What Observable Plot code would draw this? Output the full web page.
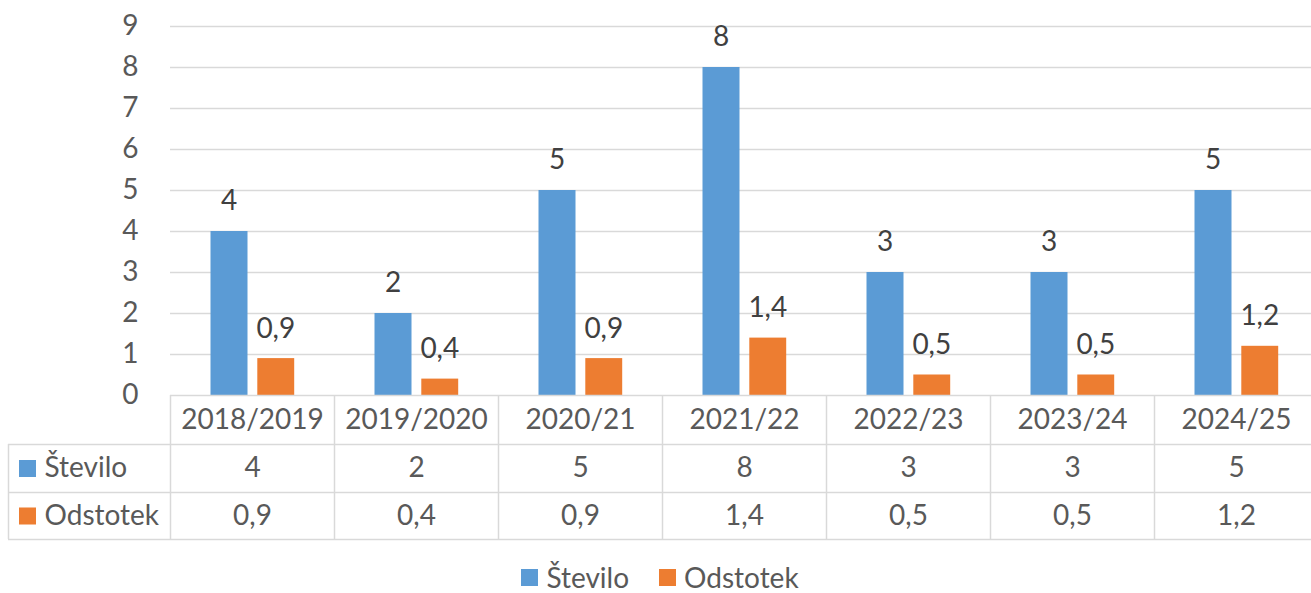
<!DOCTYPE html>
<html>
<head>
<meta charset="utf-8">
<script src="https://cdn.jsdelivr.net/npm/d3@7"></script>
<script src="https://cdn.jsdelivr.net/npm/@observablehq/plot@0.6"></script>
<style>
  html, body { margin: 0; padding: 0; background: #fff; }
  body { width: 1311px; height: 593px; overflow: hidden; font-family: Lato, "Open Sans", sans-serif; }
  #legend { height: 47px; box-sizing: border-box; padding-top: 14px; padding-bottom: 0; padding-left: 9px;
    display: flex; justify-content: center; align-items: center; font-size: 28px; line-height: 34px; color: #595959; }
  #legend .item { display: flex; align-items: center; margin: 0 15px; }
  #legend .sw { width: 17px; height: 17px; margin-right: 8px; display: inline-block; position: relative; top: 1px; }
</style>
</head>
<body>
<div id="chart"></div>
<div id="legend"></div>
<script>
// ---- data ----
const categories = ["2018/2019", "2019/2020", "2020/21", "2021/22", "2022/23", "2023/24", "2024/25"];
const stevilo = [4, 2, 5, 8, 3, 3, 5];
const odstotek = [0.9, 0.4, 0.9, 1.4, 0.5, 0.5, 1.2];
const seriesNames = ["Število", "Odstotek"];
const seriesColors = ["#5b9bd5", "#ed7d31"];
const yTicks = [0, 1, 2, 3, 4, 5, 6, 7, 8, 9];

const rows = categories.map((c, i) => ({cat: c, stevilo: stevilo[i], odstotek: odstotek[i]}));
const fmt = v => String(v).replace(".", ",");

const txt = "#595959";
const lab = "#404040";
const grid = "#d9d9d9";
const FS = 28;

const chart = Plot.plot({
  width: 1311,
  height: 546,
  marginTop: 26,
  marginBottom: 151,
  marginLeft: 170,
  marginRight: 0,
  style: {fontFamily: "Lato, 'Open Sans', sans-serif", fontSize: FS + "px", color: txt, background: "#fff"},
  x: {domain: categories, range: [170, 1318], padding: 0, axis: null},
  y: {domain: [0, 9], range: [395, 26], axis: null},
  marks: [
    Plot.gridY(yTicks.filter(t => t > 0), {stroke: grid, strokeOpacity: 1, strokeWidth: 1.5}),
    Plot.axisY(yTicks, {tickSize: 0, tickPadding: 32, fontSize: FS, fill: txt, label: null}),
    // bars
    Plot.barY(rows, {x: "cat", y: "stevilo", fill: seriesColors[0], insetLeft: 40.5, insetRight: 86.5}),
    Plot.barY(rows, {x: "cat", y: "odstotek", fill: seriesColors[1], insetLeft: 87.3, insetRight: 39.8}),
    // data labels
    Plot.text(rows, {x: "cat", y: "stevilo", text: d => fmt(d.stevilo), dx: -23.5, dy: -30, lineAnchor: "middle", fill: lab, fontSize: FS}),
    Plot.text(rows, {x: "cat", y: "odstotek", text: d => fmt(d.odstotek), dx: 23.3, dy: -30, lineAnchor: "middle", fill: lab, fontSize: FS}),
    // data table lines
    Plot.ruleY([0], {stroke: grid, strokeWidth: 1.5}),
    Plot.ruleY([0], {stroke: grid, strokeWidth: 1.5, dy: 49, insetLeft: -162}),
    Plot.ruleY([0], {stroke: grid, strokeWidth: 1.5, dy: 97, insetLeft: -162}),
    Plot.ruleY([0], {stroke: grid, strokeWidth: 1.5, dy: 144, insetLeft: -162}),
    Plot.ruleX(categories, {x: d => d, dx: -82, stroke: grid, strokeWidth: 1.5, insetTop: 369, insetBottom: -144}),
    Plot.ruleX([categories[0]], {x: d => d, dx: -82 - 162, stroke: grid, strokeWidth: 1.5, insetTop: 369 + 49, insetBottom: -144}),
    // table text
    Plot.text(rows, {x: "cat", text: "cat", frameAnchor: "bottom", lineAnchor: "middle", dy: 24.5, fill: txt, fontSize: FS}),
    Plot.text(rows, {x: "cat", text: d => fmt(d.stevilo), frameAnchor: "bottom", lineAnchor: "middle", dy: 73, fill: txt, fontSize: FS}),
    Plot.text(rows, {x: "cat", text: d => fmt(d.odstotek), frameAnchor: "bottom", lineAnchor: "middle", dy: 120.5, fill: txt, fontSize: FS}),
    // row headers with keys
    Plot.dot([seriesNames[0]], {frameAnchor: "bottom-left", dx: -143, dy: 73, symbol: "square", r: 9.6, fill: seriesColors[0], stroke: null}),
    Plot.dot([seriesNames[1]], {frameAnchor: "bottom-left", dx: -143, dy: 120.5, symbol: "square", r: 9.6, fill: seriesColors[1], stroke: null}),
    Plot.text([seriesNames[0]], {text: d => d, frameAnchor: "bottom-left", lineAnchor: "middle", dx: -126, dy: 73, textAnchor: "start", fill: txt, fontSize: FS}),
    Plot.text([seriesNames[1]], {text: d => d, frameAnchor: "bottom-left", lineAnchor: "middle", dx: -126, dy: 120.5, textAnchor: "start", fill: txt, fontSize: FS})
  ]
});
document.getElementById("chart").appendChild(chart);

const legend = document.getElementById("legend");
seriesNames.forEach((name, i) => {
  const item = document.createElement("span");
  item.className = "item";
  const sw = document.createElement("span");
  sw.className = "sw";
  sw.style.background = seriesColors[i];
  item.appendChild(sw);
  item.appendChild(document.createTextNode(name));
  legend.appendChild(item);
});
</script>
</body>
</html>
